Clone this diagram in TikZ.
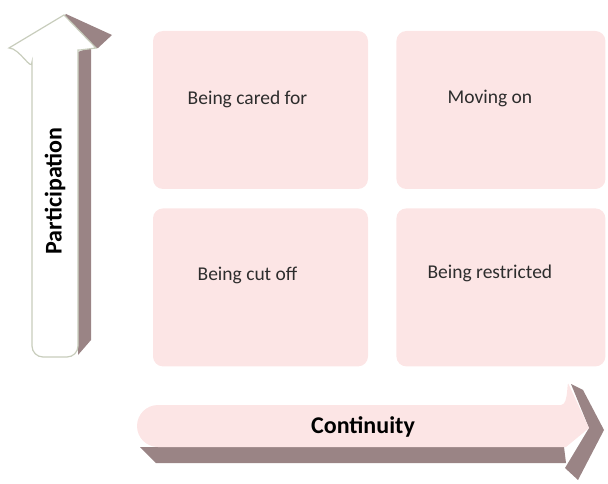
\documentclass[tikz,border=0pt]{standalone}
\usepackage{fontspec}
\setmainfont{Carlito}
\usepackage{tikz}
\usetikzlibrary{positioning}
\definecolor{boxpink}{RGB}{252,229,229}
\definecolor{shade}{RGB}{154,132,133}
\definecolor{rim}{RGB}{200,205,188}
\definecolor{ink}{RGB}{45,45,45}
\tikzstyle{quadrant} = [rectangle, rounded corners=10pt, minimum width=215pt, minimum height=158pt, fill=boxpink, inner sep=0pt]
\tikzstyle{quadtext} = [font=\fontsize{19.5}{22}\selectfont, text=ink]
\tikzstyle{axistext} = [font=\fontsize{24}{26}\selectfont\bfseries, text=black]
\tikzstyle{side} = [fill=shade, draw=none]

\begin{document}
\begin{tikzpicture}[x=1pt, y=-1pt]
            \useasboundingbox (0,0) rectangle (608,484);
            % the four quadrants
            \node (cared) [quadrant, label={[quadtext, shift={(-13pt,11pt)}]center:Being cared for}] at (260.5,110) {};
            \node (moving) [quadrant, minimum width=209pt, right=28pt of cared, label={[quadtext, shift={(-11pt,12pt)}]center:Moving on}] {};
            \node (cutoff) [quadrant, below=19pt of cared, label={[quadtext, shift={(-13pt,12pt)}]center:Being cut off}] {};
            \node (restricted) [quadrant, minimum width=209pt, below=19pt of moving, label={[quadtext, shift={(-11pt,14pt)}]center:Being restricted}] {};

            % vertical arrow
            \fill [side] (78,52) -- (91,47) -- (91,340) -- (78,355) -- cycle;
            \fill [side] (58,24) -- (66,14) -- (112,35) -- (98,48) -- (80,49) -- cycle;
            \filldraw [fill=white, draw=rim, line width=1.2pt] (32,62) to[out=-90, in=0] (9,48) -- (64,15) -- (96,48) -- (80,50)
                -- (78,50) -- (78,346) arc (0:90:11) -- (43,357) arc (90:180:11) -- cycle;
            \node (participation) [axistext, rotate=90] at (55,191) {Participation};

            % horizontal arrow
            \fill [side] (140,447) -- (564,447) -- (566,463) -- (156,463) -- cycle;
            \fill [side] (571,384) -- (583,390) -- (604,430) -- (578,480) -- (565,468) -- (589,428) -- cycle;
            \fill [boxpink] (158,405) -- (561,405) to[out=0, in=110] (569,385) -- (589,428) -- (566,447) -- (158,447) arc (90:270:21) -- cycle;
            \node (continuity) [axistext] at (363,427) {Continuity};
        \end{tikzpicture}
\end{document}
